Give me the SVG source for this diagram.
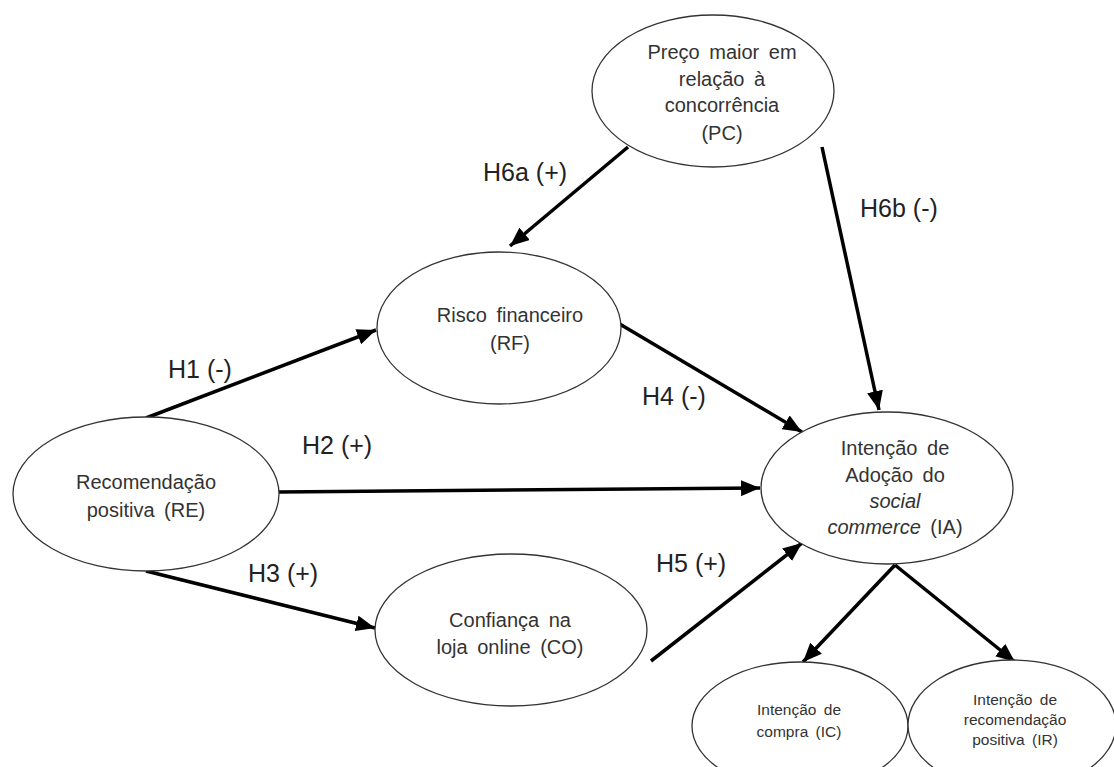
<svg xmlns="http://www.w3.org/2000/svg" width="1114" height="767" viewBox="0 0 1114 767">
<style>
.n{fill:#fff;stroke:#333;stroke-width:1.3}
.t{font-family:"Liberation Sans",Arial,sans-serif;font-size:20px;fill:#333;text-anchor:middle;word-spacing:4px}
.s{font-family:"Liberation Sans",Arial,sans-serif;font-size:15.5px;fill:#333;text-anchor:middle;word-spacing:3px}
.l{font-family:"Liberation Sans",Arial,sans-serif;font-size:25px;fill:#222}
.c{stroke:#000;stroke-width:3.5;fill:none;marker-end:url(#a)}
</style>
<defs>
<marker id="a" markerUnits="userSpaceOnUse" markerWidth="20" markerHeight="16" refX="19" refY="8" orient="auto">
<path d="M0,0 L19,8 L0,16 z" fill="#000"/>
</marker>
</defs>
<rect width="1114" height="767" fill="#fff"/>
<g id="connectors">
<line class="c" x1="628" y1="147" x2="510" y2="246"/>
<line class="c" x1="822" y1="147" x2="879" y2="410"/>
<line class="c" x1="146" y1="418" x2="376" y2="330"/>
<line class="c" x1="279" y1="492" x2="760" y2="488"/>
<line class="c" x1="146" y1="571" x2="375" y2="628"/>
<line class="c" x1="618" y1="323" x2="802" y2="432"/>
<line class="c" x1="651" y1="661" x2="802" y2="543"/>
<line class="c" x1="895" y1="565" x2="803" y2="662"/>
<line class="c" x1="895" y1="565" x2="1015" y2="662"/>
</g>
<g id="labels">
<text class="l" x="483" y="181">H6a (+)</text>
<text class="l" x="860" y="217">H6b (-)</text>
<text class="l" x="168" y="378">H1 (-)</text>
<text class="l" x="642" y="405">H4 (-)</text>
<text class="l" x="302" y="454">H2 (+)</text>
<text class="l" x="248" y="582">H3 (+)</text>
<text class="l" x="656" y="572">H5 (+)</text>
</g>
<g id="PC">
<ellipse class="n" cx="713" cy="91" rx="121" ry="76"/>
<text class="t" x="722" y="59">Preço maior em</text>
<text class="t" x="722" y="86">relação à</text>
<text class="t" x="722" y="112">concorrência</text>
<text class="t" x="722" y="140">(PC)</text>
</g>
<g id="RF">
<ellipse class="n" cx="499" cy="328" rx="122" ry="76"/>
<text class="t" x="510" y="322">Risco financeiro</text>
<text class="t" x="510" y="350">(RF)</text>
</g>
<g id="RE">
<ellipse class="n" cx="146" cy="494" rx="133" ry="77"/>
<text class="t" x="146" y="489">Recomendação</text>
<text class="t" x="146" y="517">positiva (RE)</text>
</g>
<g id="CO">
<ellipse class="n" cx="511" cy="630" rx="136" ry="76"/>
<text class="t" x="510" y="627">Confiança na</text>
<text class="t" x="510" y="654">loja online (CO)</text>
</g>
<g id="IA">
<ellipse class="n" cx="887" cy="488" rx="126" ry="76"/>
<text class="t" x="895" y="455">Intenção de</text>
<text class="t" x="895" y="482">Adoção do</text>
<text class="t" x="895" y="508" font-style="italic">social</text>
<text class="t" x="895" y="534"><tspan font-style="italic">commerce</tspan> (IA)</text>
</g>
<g id="IC">
<ellipse class="n" cx="800" cy="726" rx="108" ry="64"/>
<text class="s" x="799" y="715">Intenção de</text>
<text class="s" x="799" y="737">compra (IC)</text>
</g>
<g id="IR">
<ellipse class="n" cx="1012" cy="725" rx="104" ry="65"/>
<text class="s" x="1015" y="705">Intenção de</text>
<text class="s" x="1015" y="725">recomendação</text>
<text class="s" x="1015" y="745">positiva (IR)</text>
</g>
</svg>
